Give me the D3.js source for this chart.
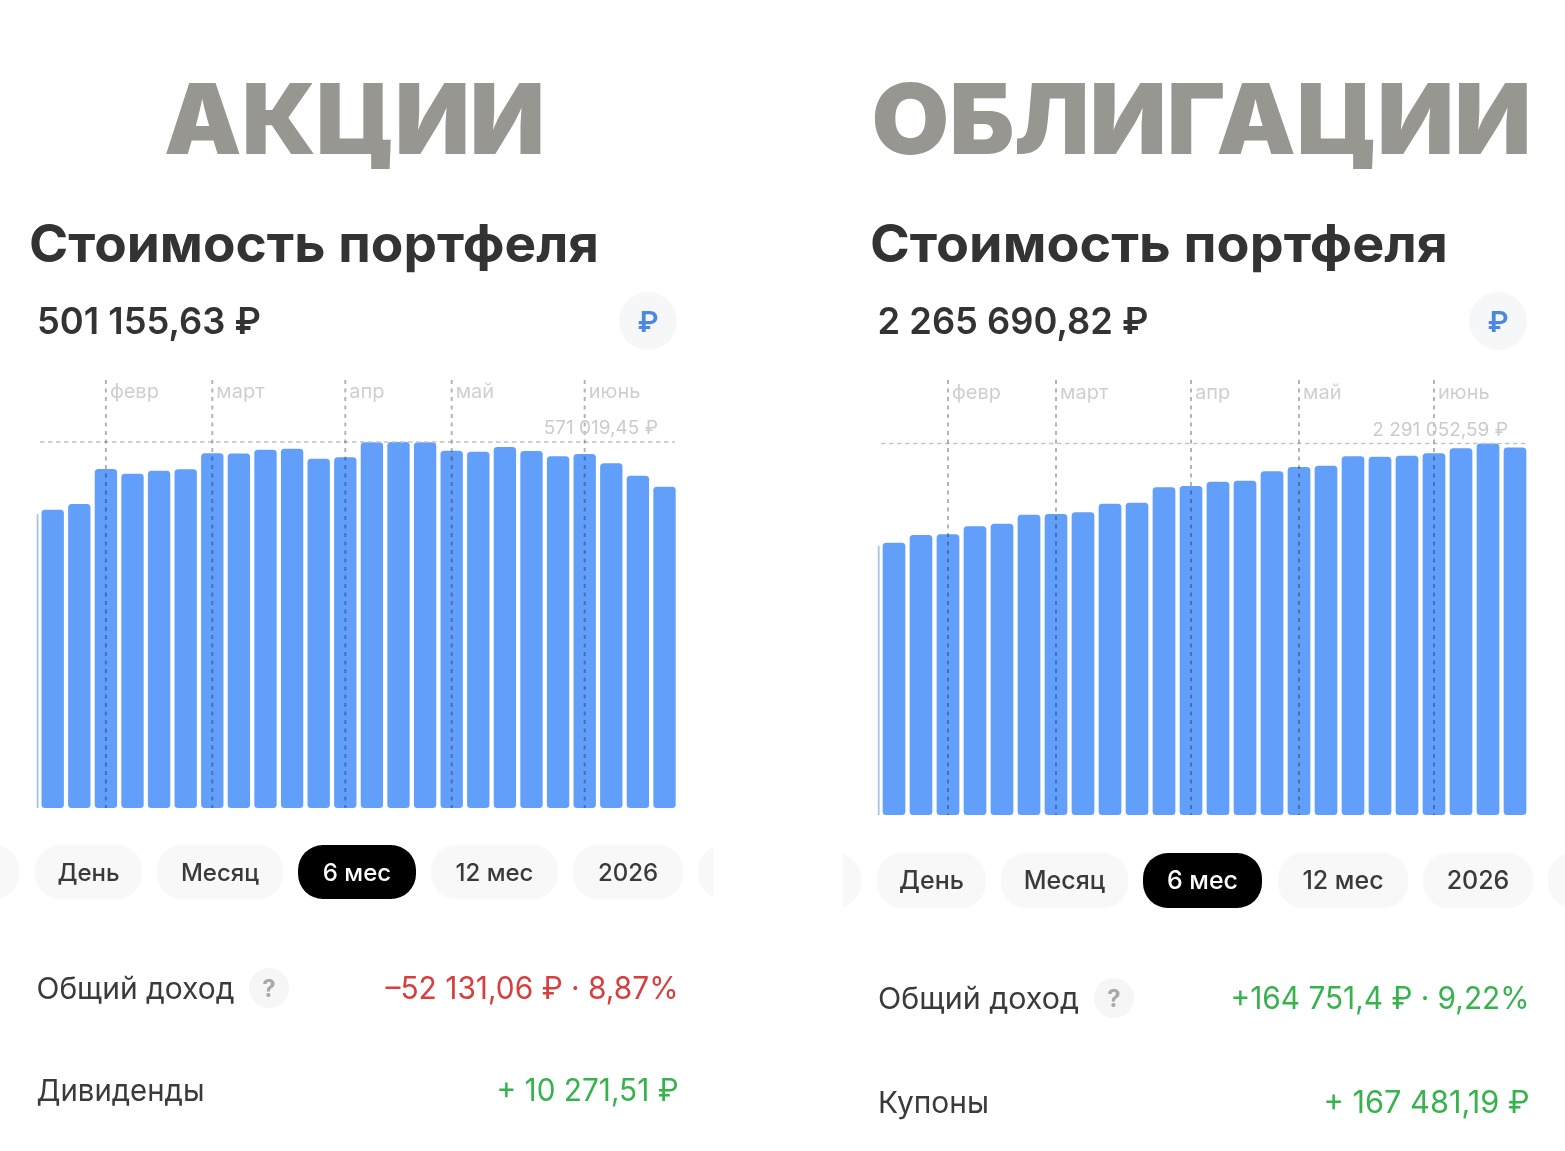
<!DOCTYPE html>
<html lang="ru">
<head>
<meta charset="utf-8">
<title>Стоимость портфеля</title>
<script src="https://cdn.jsdelivr.net/npm/d3@7"></script>
<style>
  html, body { margin: 0; padding: 0; background: #fff; }
  svg { display: block; font-family: Inter, "Noto Sans", sans-serif; }
</style>
</head>
<body>
<svg id="chart" width="1565" height="1151"></svg>
<script>
// Portfolio values, one per bar, in rubles
const stockValues = [465400, 474300, 528900, 521600, 526300, 528400, 553400, 553000, 559000, 560600, 545000, 547200,
  570500, 571019.45, 570800, 557500, 555900, 563200, 557000, 548700, 552300, 537800, 518500, 501155.63];
const bondValues = [1679300, 1726800, 1731100, 1780400, 1796400, 1851900, 1856300, 1866800, 1919800, 1925900, 2020900, 2028900,
  2055500, 2061600, 2119600, 2146100, 2154100, 2212100, 2209600, 2215800, 2230600, 2261400, 2291052.59, 2265690.82];
// The bar just before the visible window, cut off by the chart edge
const stockPrevValue = 458700;
const bondPrevValue = 1658900;

const monthLabels = ["февр", "март", "апр", "май", "июнь"];
const monthBarIndex = [2, 6, 11, 15, 20];
const periodLabels = ["День", "Месяц", "6 мес", "12 мес", "2026"];

const svg = d3.select("#chart");

const panels = [
  {
    heading: "АКЦИИ", headingX: 354.5, headingLen: 381,
    titleX: 29, titleLen: 570, titleY: 262,
    total: "501 155,63 ₽", totalX: 37, totalLen: 224, totalY: 334,
    iconX: 648,
    values: stockValues, prev: stockPrevValue,
    maxLabel: "571 019,45 ₽",
    x0: 39.4, pitch: 26.6, bottom: 808, top: 442,
    guideLeft: 40, guideRight: 675, monthY: 398, maxLabelX: 658, maxLabelY: 434,
    pillY: 845, pillH: 54, fontPill: 24,
    pills: [[35, 142], [157, 283], [298, 416], [431, 558], [573, 683]],
    stubs: [[-60, 19], [698, 760]], clipX: [0, 714],
    incomeY: 999, incomeText: "–52 131,06 ₽ · 8,87%", incomeColor: "#d5403f", incomeLen: 293,
    helpX: 269, helpY: 988, rightEdge: 678.5, labelX: 36.5, incomeLabelLen: 198,
    row2Y: 1101, row2Label: "Дивиденды", row2LabelLen: 168, row2Value: "+ 10 271,51 ₽", row2Len: 182
  },
  {
    heading: "ОБЛИГАЦИИ", headingX: 1201.5, headingLen: 660,
    titleX: 870, titleLen: 578, titleY: 262,
    total: "2 265 690,82 ₽", totalX: 877.5, totalLen: 271, totalY: 334,
    iconX: 1498,
    values: bondValues, prev: bondPrevValue,
    maxLabel: "2 291 052,59 ₽",
    x0: 880.5, pitch: 27, bottom: 815, top: 443.5,
    guideLeft: 881, guideRight: 1526, monthY: 399, maxLabelX: 1508, maxLabelY: 436,
    pillY: 853, pillH: 55, fontPill: 25,
    pills: [[877, 986], [1001, 1128], [1143, 1262], [1278, 1408], [1423, 1533]],
    stubs: [[790, 861], [1548, 1620]], clipX: [843, 1565],
    incomeY: 1009, incomeText: "+164 751,4 ₽ · 9,22%", incomeColor: "#36b34c", incomeLen: 299,
    helpX: 1114, helpY: 998, rightEdge: 1529.5, labelX: 878, incomeLabelLen: 201,
    row2Y: 1113, row2Label: "Купоны", row2LabelLen: 111, row2Value: "+ 167 481,19 ₽", row2Len: 206
  }
];

panels.forEach((p, idx) => {
  const g = svg.append("g");

  // Large section heading
  g.append("text")
    .attr("x", p.headingX).attr("y", 154)
    .attr("text-anchor", "middle")
    .attr("font-size", 98).attr("font-weight", 900)
    .attr("textLength", p.headingLen).attr("lengthAdjust", "spacingAndGlyphs")
    .attr("fill", "#979691")
    .text(p.heading);

  g.append("text")
    .attr("x", p.titleX).attr("y", p.titleY)
    .attr("font-size", 52).attr("font-weight", 700)
    .attr("textLength", p.titleLen).attr("lengthAdjust", "spacingAndGlyphs")
    .attr("fill", "#333333")
    .text("Стоимость портфеля");

  g.append("text")
    .attr("x", p.totalX).attr("y", p.totalY)
    .attr("font-size", 37).attr("font-weight", 600)
    .attr("textLength", p.totalLen).attr("lengthAdjust", "spacingAndGlyphs")
    .attr("fill", "#333333")
    .text(p.total);

  // Currency toggle
  g.append("circle")
    .attr("cx", p.iconX).attr("cy", 321).attr("r", 29)
    .attr("fill", "#f6f7f9");
  g.append("text")
    .attr("x", p.iconX).attr("y", 332)
    .attr("text-anchor", "middle")
    .attr("font-size", 29).attr("font-weight", 600)
    .attr("fill", "#4d88e0")
    .text("₽");

  // Scales: one band per bar, zero-based value axis
  const x = d3.scaleBand()
    .domain(d3.range(p.values.length))
    .range([p.x0, p.x0 + p.pitch * p.values.length])
    .paddingInner(0.16).paddingOuter(0.08);
  const maxValue = d3.max(p.values);
  const y = d3.scaleLinear().domain([0, maxValue]).range([p.bottom, p.top]);

  // Sliver of the preceding bar at the chart edge
  g.append("line")
    .attr("x1", p.x0 - 1.8).attr("x2", p.x0 - 1.8)
    .attr("y1", y(p.prev)).attr("y2", p.bottom)
    .attr("stroke", "#a9c3e6").attr("stroke-width", 1.8);

  g.append("g").selectAll("rect")
    .data(p.values)
    .join("rect")
    .attr("x", (d, i) => x(i))
    .attr("width", x.bandwidth())
    .attr("y", d => y(d))
    .attr("height", d => y(0) - y(d))
    .attr("rx", 3.5)
    .attr("fill", "#619ffb");

  // Dashed guide at the peak value
  g.append("line")
    .attr("x1", p.guideLeft).attr("x2", p.guideRight)
    .attr("y1", y(maxValue)).attr("y2", y(maxValue))
    .attr("stroke", "#c4c4c4").attr("stroke-width", 1.6)
    .attr("stroke-dasharray", "4.5 3.5");

  // Month separators with their labels; multiply darkens the dashes over the bars
  const months = g.append("g").selectAll("g")
    .data(monthLabels)
    .join("g")
    .attr("transform", (d, i) => `translate(${x(monthBarIndex[i]) + x.bandwidth() / 2},0)`);
  months.append("line")
    .attr("y1", 380).attr("y2", p.bottom)
    .attr("stroke", "#b4b4b4").attr("stroke-width", 2)
    .attr("stroke-dasharray", "4 4.5")
    .style("mix-blend-mode", "multiply");
  months.append("text")
    .attr("x", 4).attr("y", p.monthY)
    .attr("font-size", 20)
    .attr("fill", "#cfcfcf")
    .text(d => d);

  g.append("text")
    .attr("x", p.maxLabelX).attr("y", p.maxLabelY)
    .attr("text-anchor", "end")
    .attr("font-size", 19)
    .attr("fill", "#cbcbcb")
    .text(p.maxLabel);

  // Period selector; neighbours outside the visible strip are clipped
  const clipId = "strip" + idx;
  svg.append("clipPath").attr("id", clipId).append("rect")
    .attr("x", p.clipX[0]).attr("y", p.pillY - 5)
    .attr("width", p.clipX[1] - p.clipX[0]).attr("height", p.pillH + 10);
  g.append("g").attr("clip-path", `url(#${clipId})`).selectAll("rect")
    .data(p.stubs)
    .join("rect")
    .attr("x", d => d[0]).attr("width", d => d[1] - d[0])
    .attr("y", p.pillY).attr("height", p.pillH)
    .attr("rx", 25).attr("fill", "#f8f8f8");

  const pills = g.append("g").selectAll("g")
    .data(periodLabels)
    .join("g");
  pills.append("rect")
    .attr("x", (d, i) => p.pills[i][0])
    .attr("width", (d, i) => p.pills[i][1] - p.pills[i][0])
    .attr("y", p.pillY).attr("height", p.pillH)
    .attr("rx", 25)
    .attr("fill", (d, i) => i === 2 ? "#000000" : "#f8f8f8");
  pills.append("text")
    .attr("x", (d, i) => (p.pills[i][0] + p.pills[i][1]) / 2)
    .attr("y", p.pillY + p.pillH / 2 + 8.5)
    .attr("text-anchor", "middle")
    .attr("font-size", p.fontPill).attr("font-weight", 500)
    .attr("fill", (d, i) => i === 2 ? "#ffffff" : "#3a3a3a")
    .text(d => d);

  // Income rows
  const rowLabel = (yy, s, len) => g.append("text")
    .attr("x", p.labelX).attr("y", yy)
    .attr("font-size", 30)
    .attr("textLength", len).attr("lengthAdjust", "spacingAndGlyphs")
    .attr("fill", "#3a3a3a")
    .text(s);
  const rowValue = (yy, s, color, len) => g.append("text")
    .attr("x", p.rightEdge).attr("y", yy)
    .attr("text-anchor", "end")
    .attr("font-size", 31)
    .attr("textLength", len).attr("lengthAdjust", "spacingAndGlyphs")
    .attr("fill", color)
    .text(s);

  rowLabel(p.incomeY, "Общий доход", p.incomeLabelLen);
  rowValue(p.incomeY, p.incomeText, p.incomeColor, p.incomeLen);
  g.append("circle")
    .attr("cx", p.helpX).attr("cy", p.helpY).attr("r", 20)
    .attr("fill", "#f6f6f6");
  g.append("text")
    .attr("x", p.helpX).attr("y", p.helpY + 9)
    .attr("text-anchor", "middle")
    .attr("font-size", 24).attr("font-weight", 700)
    .attr("fill", "#a8a8a8")
    .text("?");

  rowLabel(p.row2Y, p.row2Label, p.row2LabelLen);
  rowValue(p.row2Y, p.row2Value, "#36b34c", p.row2Len);
});
</script>
</body>
</html>
